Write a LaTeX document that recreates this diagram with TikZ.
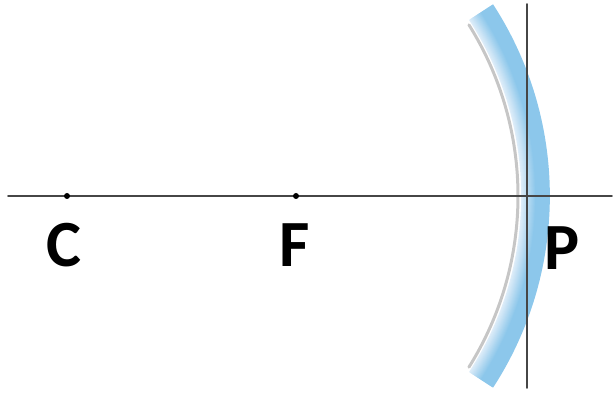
\documentclass[tikz,border=0pt]{standalone}
\usepackage{fontspec}
\setmainfont{Carlito}
\definecolor{mirrorlight}{RGB}{222,237,249}
\definecolor{mirrorblue}{RGB}{140,199,235}
\definecolor{axisgray}{RGB}{70,70,70}
\begin{document}
\begin{tikzpicture}[x=1pt,y=1pt,line cap=round,
	axis/.style={axisgray,line width=1.8pt},
	lbl/.style={inner sep=0pt,font=\fontsize{66}{66}\selectfont\bfseries}]
	\useasboundingbox (0,0) rectangle (615,395);
	\coordinate (O) at (198,199);
	\coordinate (C) at (67,199);
	\coordinate (F) at (296,199);
	\coordinate (P) at (527,199);
	\coordinate (L) at (8,199);
	\coordinate (R) at (612,199);
	\coordinate (T) at (527,391);
	\coordinate (B) at (527,7);
	% shadow on the reflecting side
	\draw[gray!45,line width=3pt] ([xshift=-3pt]O) ++(-32:323) arc[start angle=-32,end angle=32,radius=323];
	% mirror body, light inside to darker outside
	\foreach \i in {0,...,27}{
		\pgfmathsetmacro{\t}{max(0,100-\i*100/14)}
		\draw[mirrorlight!\t!mirrorblue,line width=1.7pt,line cap=butt]
			(O) ++(-33:324+\i) arc[start angle=-33,end angle=33,radius=324+\i];
	}
	\draw[axis] (L)--(R);
	\draw[axis] (B)--(T);
	\fill (C) circle(3pt);
	\fill (F) circle(3pt);
	\node[lbl] (c) at (64,150) {C};
	\node[lbl] (f) at (295,150) {F};
	\node[lbl] (p) at (562,147) {P};
\end{tikzpicture}
\end{document}
